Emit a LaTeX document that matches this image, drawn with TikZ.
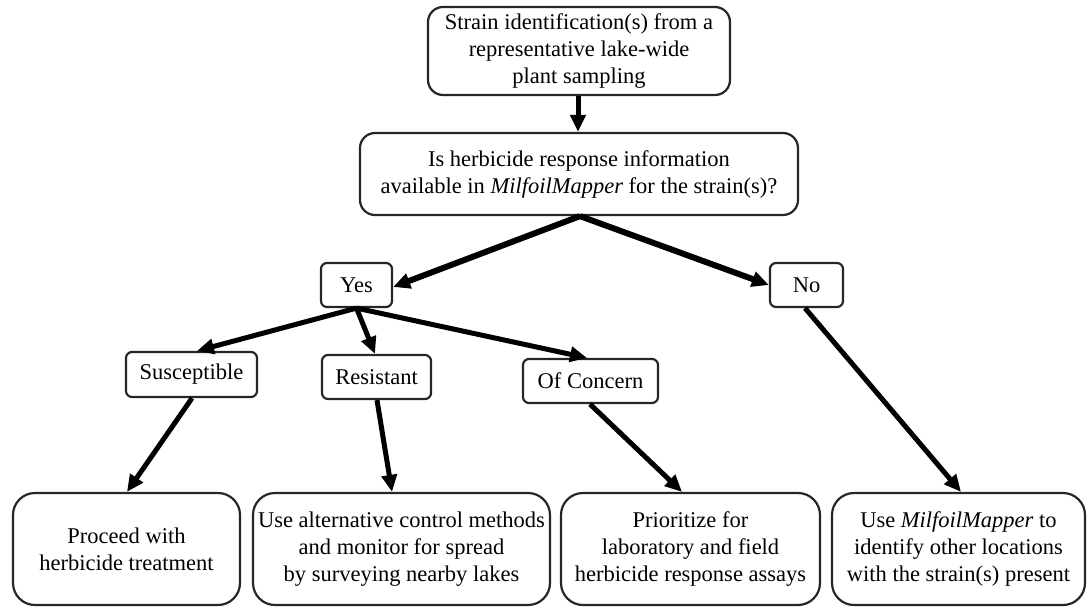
\documentclass[tikz,border=0pt]{standalone}
\usepackage{fontspec}
\setmainfont{Liberation Serif}
\usetikzlibrary{arrows.meta}
\tikzset{
  box/.style={draw=black!85, line width=2.2pt, rounded corners=#1, inner sep=0pt, align=center,
    font=\fontsize{22.5}{27}\selectfont},
  box/.default=6pt,
  arr/.style={line width=#1, -{Triangle[length=17pt,width=15pt]}},
  arr/.default=5pt
}
\begin{document}
\begin{tikzpicture}[x=1pt,y=-1pt]
\useasboundingbox (0,0) rectangle (1088,606);
% top
\node[box=15pt, minimum width=302pt, minimum height=88pt] (top) at (579,51)
  {Strain identification(s) from a\\representative lake-wide\\plant sampling};
\node[box=15pt, minimum width=438pt, minimum height=82pt] (q) at (579,174)
  {Is herbicide response information\\available in \textit{MilfoilMapper} for the strain(s)?};
% yes / no
\node[box, minimum width=71pt, minimum height=44pt] (yes) at (356.5,285) {Yes};
\node[box, minimum width=73pt, minimum height=44pt] (no) at (806.5,285) {No};
% middle
\node[box, minimum width=131pt, minimum height=45pt] (sus) at (191.5,374.5) {Susceptible};
\node[box, minimum width=109pt, minimum height=44pt] (res) at (376.5,377) {Resistant};
\node[box, minimum width=135pt, minimum height=44pt] (oc) at (590.5,381) {Of Concern};
% bottom
\node[box=22pt, minimum width=227pt, minimum height=112pt] (pro) at (126.5,549)
  {Proceed with\\herbicide treatment};
\node[box=22pt, minimum width=297pt, minimum height=112pt] (alt) at (401.5,549)
  {Use alternative control methods\\and monitor for spread\\by surveying nearby lakes};
\node[box=22pt, minimum width=259pt, minimum height=112pt] (pri) at (690.5,549)
  {Prioritize for\\laboratory and field\\herbicide response assays};
\node[box=22pt, minimum width=253pt, minimum height=112pt] (mm) at (958.5,549)
  {Use \textit{MilfoilMapper} to\\identify other locations\\with the strain(s) present};
% arrows
\draw[arr=5pt] ([xshift=-1pt]top.south) -- ([xshift=-1pt]q.north);
\draw[arr=6pt] ([xshift=1pt]q.south) -- ([yshift=-2pt]yes.east);
\draw[arr=6pt] ([xshift=1pt]q.south) -- ([yshift=0pt]no.west);
\draw[arr] (yes.south) -- ([xshift=5.5pt]sus.north);
\draw[arr] (yes.south) -- ([xshift=-1.5pt]res.north);
\draw[arr] (yes.south) -- ([xshift=-3.5pt]oc.north);
\draw[arr] ([xshift=0.5pt]sus.south) -- ([xshift=0.5pt]pro.north);
\draw[arr] ([xshift=0.5pt]res.south) -- ([xshift=-9.5pt]alt.north);
\draw[arr] ([xshift=-0.5pt]oc.south) -- ([xshift=-8.5pt]pri.north);
\draw[arr] ([xshift=-1.5pt]no.south) -- ([xshift=2.5pt]mm.north);
\end{tikzpicture}
\end{document}
